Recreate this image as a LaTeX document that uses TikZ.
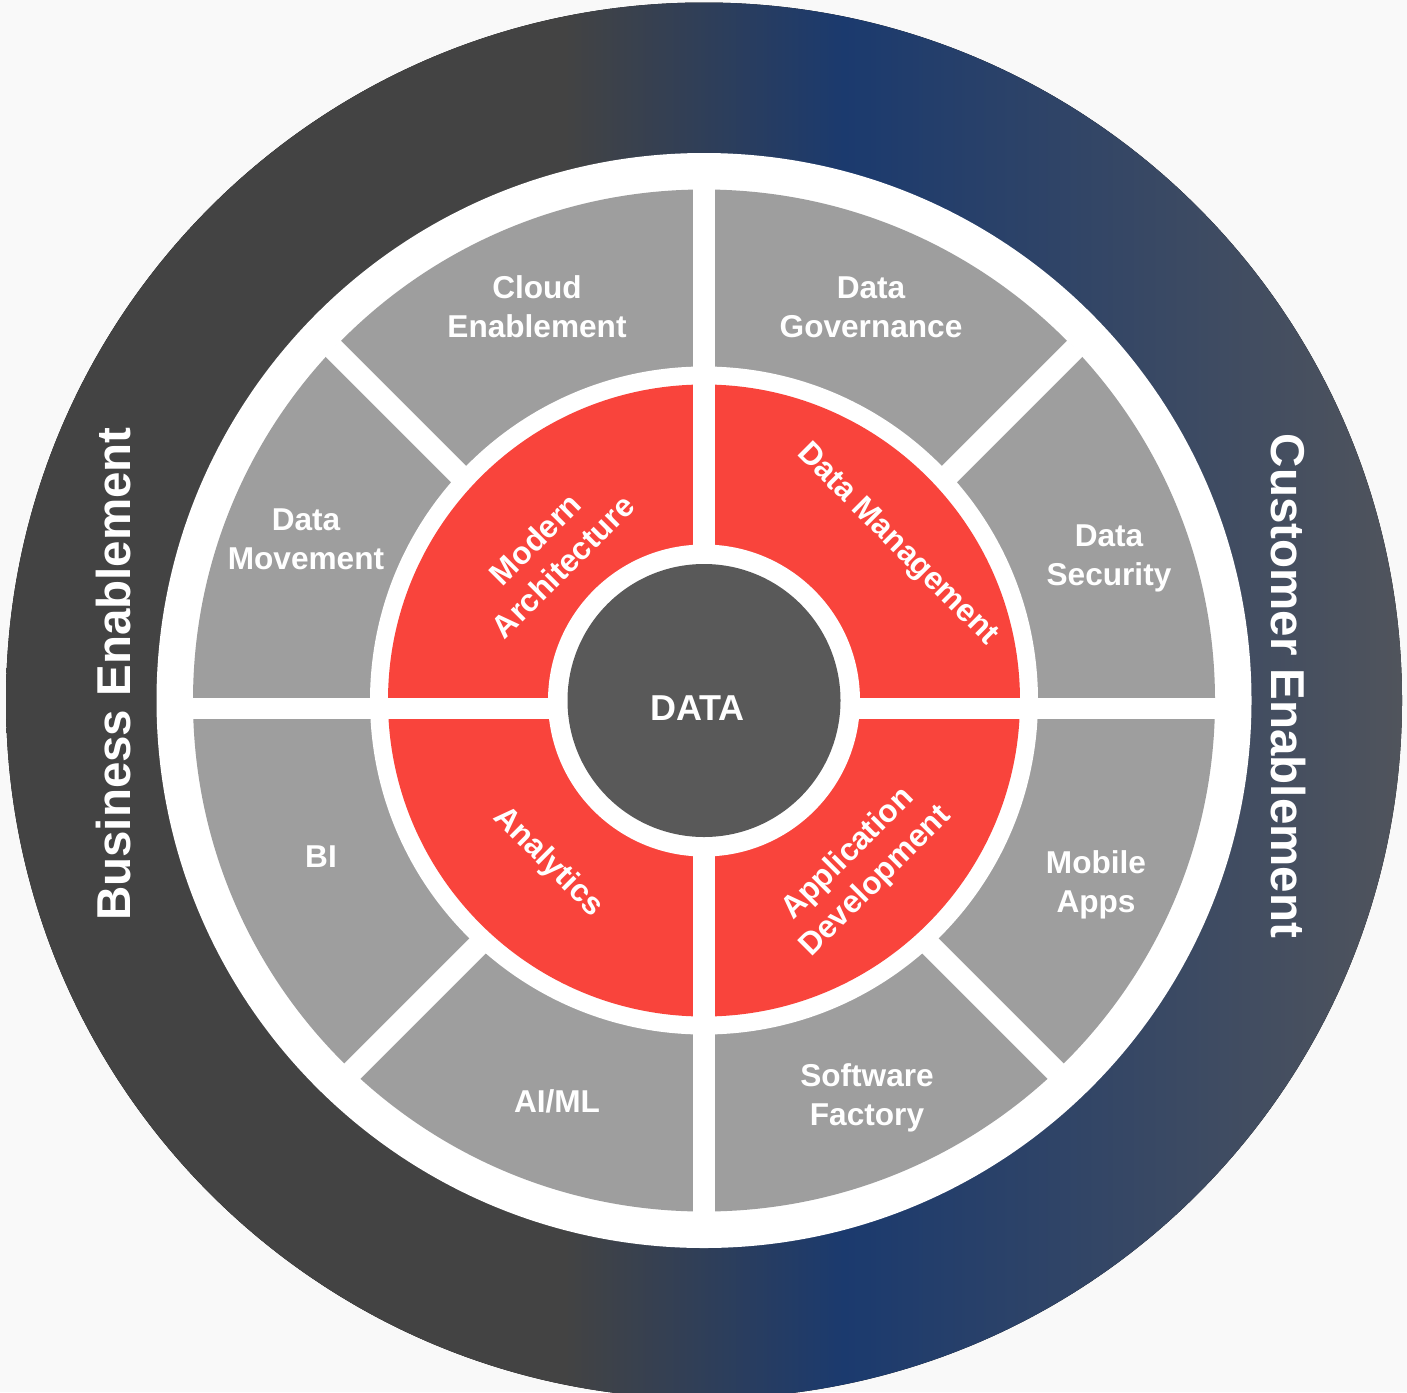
\documentclass[tikz,border=0pt]{standalone}
\usepackage{fontspec}
\setmainfont{Liberation Sans}
\definecolor{bgcol}{HTML}{F9F9F9}
\definecolor{ringleft}{HTML}{434343}
\definecolor{ringnavy}{HTML}{1B3A6E}
\definecolor{ringright}{HTML}{50545C}
\definecolor{seggray}{HTML}{9E9E9E}
\definecolor{redseg}{HTML}{F9443C}
\definecolor{centergray}{HTML}{595959}
\pgfdeclarehorizontalshading{ringshade}{100bp}{color(0bp)=(ringleft); color(45bp)=(ringleft); color(55bp)=(ringnavy); color(75bp)=(ringright); color(100bp)=(ringright)}
\begin{document}
\begin{tikzpicture}[x=0.5pt,y=-0.5pt,
  seglabel/.style={text=white,font=\bfseries\fontsize{15.8}{19.5}\selectfont,align=center,inner sep=0pt},
  redlabel/.style={seglabel},
  ringlabel/.style={text=white,font=\bfseries\fontsize{23.75}{28}\selectfont,inner sep=0pt},
  datalabel/.style={text=white,font=\bfseries\fontsize{18}{21}\selectfont,inner sep=0pt},
  gap/.style={draw=white,line width=11pt}]
\useasboundingbox (0,0) rectangle (1407,1392);
\fill[bgcol] (0,0) rectangle (1407,1392);
\clip (0,0) rectangle (1407,1392);
\coordinate (c) at (704,700.5);
% outer ring
\fill[shading=ringshade] (c) circle[radius=349pt];
\fill[white] (c) circle[radius=273.75pt];
% gray segments
\fill[seggray] (c) circle[radius=255.5pt];
\begin{scope}
  \clip (c) circle[radius=256pt];
  \draw[gap] (104,119.5) -- (1304,1319.5);
  \draw[gap] (104,1319.5) -- (1304,119.5);
\end{scope}
\fill[white] (c) circle[radius=167pt];
% red quadrants
\fill[redseg] (c) circle[radius=158pt];
\begin{scope}
  \clip (c) circle[radius=256pt];
  \draw[gap] (704,150) -- (704,1250);
  \draw[gap,line width=10.5pt] (150,708.5) -- (1260,708.5);
\end{scope}
% center
\fill[white] (c) circle[radius=78pt];
\fill[centergray] (c) circle[radius=68.25pt];
\node[datalabel] (data) at (697.5,708.5) {DATA};
% ring labels
\node[ringlabel,rotate=90] (business) at (114,674) {Business Enablement};
\node[ringlabel,rotate=-90] (customer) at (1288,686) {Customer Enablement};
% gray labels
\node[seglabel] (cloud) at (537,306.5) {Cloud\\Enablement};
\node[seglabel] (governance) at (871,307) {Data\\Governance};
\node[seglabel] (movement) at (306,539.5) {Data\\Movement};
\node[seglabel] (security) at (1109,558.5) {Data\\Security};
\node[seglabel] (bi) at (321,857) {BI};
\node[seglabel] (mobile) at (1096,885) {Mobile\\Apps};
\node[seglabel] (aiml) at (557,1101) {AI/ML};
\node[seglabel] (software) at (867,1098) {Software\\Factory};
% red labels
\node[redlabel,rotate=45] (modern) at (549,552.5) {Modern\\Architecture};
\node[redlabel,rotate=-45] (datamgmt) at (897,545) {Data Management};
\node[redlabel,rotate=-45] (analytics) at (548,862) {Analytics};
\node[redlabel,rotate=45] (appdev) at (862,868) {Application\\Development};
\end{tikzpicture}
\end{document}
